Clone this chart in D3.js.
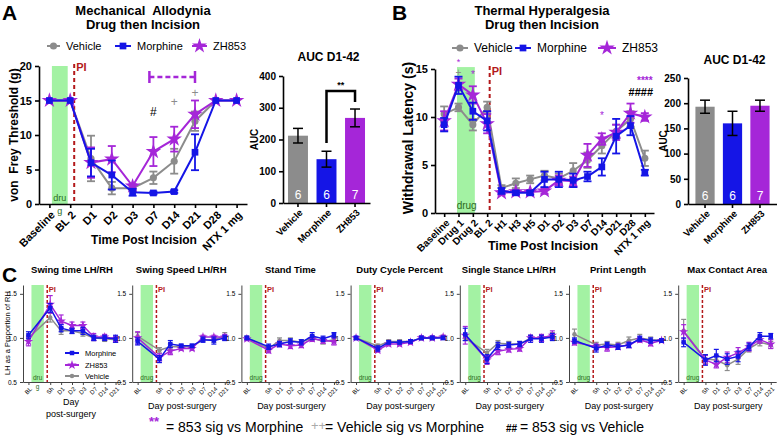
<!DOCTYPE html>
<html><head><meta charset="utf-8">
<script src="https://cdn.jsdelivr.net/npm/d3@7"></script>
<style>body{margin:0;background:#fff} svg{font-family:"Liberation Sans",Arial,Helvetica,sans-serif} text{white-space:pre}</style>
</head><body><svg id="c" width="777" height="441"></svg>
<script>
// ---------- DATA ----------
const groups = ["Vehicle","Morphine","ZH853"];
const groupN = [6,6,7];

const catsA = ["Baseline","BL 2","D1","D2","D3","D7","D14","D21","D28","NTX 1 mg"];
const vehA    = [15,15,6.6,2.3,2.3,3.8,6.2,12.0,15,15];
const vehAErr = [0,0,3.3,0.9,0.3,0.9,1.8,1.4,0,0];
const morA    = [15,15,6.0,4.2,1.7,1.6,1.8,7.5,15,15];
const morAErr = [0,0,2.0,2.1,0.5,0.2,0.2,2.6,0,0];
const zhA     = [15,15,6.0,6.5,2.6,7.6,9.4,13.0,15,15];
const zhAErr  = [0,0,2.2,1.9,0.3,2.1,1.8,2.0,0,0];
const aucA    = [212,138,268];
const aucAErr = [23,25,28];

const catsB = ["Baseline","Drug 1","Drug 2","BL 2","H1","H3","H5","D1","D2","D3","D7","D14","D21","D28","NTX 1 mg"];
const vehB    = [10.3,11.0,9.2,11.0,2.6,3.1,3.5,3.9,3.6,4.4,5.5,7.0,8.5,9.8,5.7];
const vehBErr = [0.8,0.4,0.6,0.6,0.3,0.5,0.4,0.5,0.5,0.8,0.8,0.8,0.7,0.8,0.8];
const morB    = [9.2,13.3,10.6,9.6,2.3,2.1,2.1,3.5,3.5,3.4,3.8,4.8,8.0,9.1,4.2];
const morBErr = [0.7,0.9,0.9,1.0,0.3,0.2,0.2,0.8,0.8,0.7,0.5,0.9,1.8,1.0,0.3];
const zhB     = [9.6,13.4,12.3,9.3,2.1,2.2,2.2,2.3,3.4,3.3,6.0,7.7,8.4,10.4,10.0];
const zhBErr  = [1.0,0.6,0.9,1.0,0.2,0.2,0.2,0.3,0.5,0.5,1.2,0.6,0.8,1.0,0.4];
const aucB    = [193,160,195];
const aucBErr = [13,24,11];

const titlesC = ["Swing time LH/RH","Swing Speed LH/RH","Stand Time","Duty Cycle Percent","Single Stance LH/RH","Print Length","Max Contact Area"];
const catsC = ["BL","Sh","D1","D2","D3","D7","D14","D21"];
const morC = [
 [1.03,1.34,1.11,1.08,1.08,1.00,1.00,0.99],
 [0.96,0.76,0.93,0.91,0.91,0.98,0.97,1.00],
 [1.00,0.90,0.93,0.96,0.95,1.02,0.99,1.03],
 [1.00,0.88,0.95,0.95,0.96,1.00,1.00,1.00],
 [1.04,0.76,0.91,0.92,0.93,0.99,0.99,1.01],
 [0.97,0.88,0.92,0.90,0.92,0.99,0.97,0.97],
 [0.95,0.75,0.80,0.76,0.79,0.90,1.02,1.02]];
const morCErr = [
 [0.04,0.05,0.04,0.03,0.04,0.03,0.03,0.04],
 [0.04,0.04,0.04,0.02,0.02,0.03,0.04,0.03],
 [0.02,0.03,0.03,0.03,0.03,0.04,0.03,0.03],
 [0.02,0.03,0.02,0.02,0.02,0.02,0.02,0.02],
 [0.07,0.05,0.04,0.03,0.03,0.04,0.04,0.04],
 [0.03,0.04,0.03,0.03,0.03,0.03,0.03,0.02],
 [0.05,0.06,0.07,0.06,0.06,0.04,0.04,0.03]];
const zhC = [
 [0.96,1.38,1.19,1.14,1.14,1.01,1.01,0.99],
 [1.00,0.78,0.85,0.88,0.88,1.01,1.01,1.01],
 [0.99,0.86,0.93,0.91,0.92,0.99,0.97,0.96],
 [1.00,0.86,0.93,0.93,0.95,1.00,1.00,1.01],
 [1.03,0.75,0.85,0.87,0.88,1.00,1.00,1.03],
 [0.95,0.90,0.89,0.90,0.92,0.98,0.94,0.97],
 [1.07,0.75,0.70,0.78,0.83,0.90,0.98,0.93]];
const zhCErr = [
 [0.05,0.10,0.07,0.04,0.04,0.04,0.03,0.03],
 [0.07,0.04,0.04,0.02,0.02,0.02,0.02,0.03],
 [0.02,0.03,0.03,0.03,0.03,0.03,0.03,0.04],
 [0.01,0.02,0.02,0.02,0.02,0.02,0.02,0.02],
 [0.10,0.05,0.04,0.03,0.03,0.03,0.04,0.05],
 [0.03,0.03,0.04,0.03,0.03,0.03,0.03,0.02],
 [0.08,0.05,0.04,0.06,0.06,0.05,0.04,0.05]];
const vehC = [
 [1.00,1.23,1.08,1.08,1.05,1.00,0.99,0.98],
 [1.02,0.86,0.90,0.90,0.90,0.98,0.98,1.02],
 [1.00,0.88,0.97,0.97,0.95,1.00,0.96,0.98],
 [1.00,0.91,0.96,0.96,0.96,1.00,1.00,1.01],
 [1.00,0.83,0.94,0.93,0.93,1.00,1.00,1.02],
 [1.04,0.92,0.93,0.92,0.97,1.00,0.98,0.97],
 [1.08,0.76,0.75,0.69,0.76,0.88,0.95,0.92]];
const vehCErr = [
 [0.03,0.05,0.04,0.03,0.03,0.03,0.03,0.03],
 [0.04,0.03,0.03,0.02,0.02,0.02,0.03,0.04],
 [0.02,0.03,0.03,0.03,0.03,0.03,0.03,0.03],
 [0.01,0.02,0.02,0.02,0.02,0.02,0.02,0.02],
 [0.03,0.04,0.03,0.03,0.03,0.03,0.03,0.04],
 [0.06,0.03,0.03,0.03,0.04,0.04,0.03,0.02],
 [0.13,0.05,0.05,0.06,0.06,0.04,0.04,0.04]];

// ---------- STYLE ----------
const COL = {veh:"#8c8c8c", mor:"#1515e6", zh:"#a526d8"};
const GREEN = "#a3f2a3", PIRED = "#b3191b", TXTGREEN = "#2c6a1c";
const svg = d3.select("#c");

function series(g, x, y, cats, vals, errs, color, sym, size, lw, cap, ebw){
  const line = d3.line().x((d,i)=>x(cats[i])).y(d=>y(d));
  g.append("path").attr("d", line(vals)).attr("fill","none").attr("stroke",color).attr("stroke-width",lw);
  vals.forEach((v,i)=>{
    const e = errs[i]; if(!(e>0)) return;
    const cx = x(cats[i]);
    g.append("line").attr("x1",cx).attr("x2",cx).attr("y1",y(v-e)).attr("y2",y(v+e)).attr("stroke",color).attr("stroke-width",ebw);
    [v-e,v+e].forEach(t=>g.append("line").attr("x1",cx-cap/2).attr("x2",cx+cap/2).attr("y1",y(t)).attr("y2",y(t)).attr("stroke",color).attr("stroke-width",ebw));
  });
  g.selectAll(null).data(vals).join("path")
    .attr("transform",(d,i)=>`translate(${x(cats[i])},${y(d)})`)
    .attr("d", d3.symbol().type(sym).size(size)).attr("fill",color);
}
function styleAxis(ag, fs, bold, sw){
  ag.attr("font-family",null).attr("font-size",null);
  ag.selectAll("path,line").attr("stroke","#000").attr("stroke-width",sw);
  ag.selectAll("text").attr("font-size",fs).attr("font-weight",bold?"bold":"normal").attr("fill","#000");
}
function rotLabels(ag, dx, dy){
  ag.selectAll("text").attr("x",0).attr("y",0).attr("dy","0.35em").attr("text-anchor","end")
    .attr("transform",`translate(${dx},${dy}) rotate(-45)`);
}
function txt(x,y,s,fs,opts={}){
  const t = svg.append("text").attr("x",x).attr("y",y).text(s).attr("font-size",fs)
   .attr("font-weight",opts.bold?"bold":"normal").attr("fill",opts.fill||"#000")
   .attr("text-anchor",opts.anchor||"start");
  if(opts.rot) t.attr("transform",`rotate(${opts.rot},${x},${y})`);
  return t;
}
function legendItem(g, x1, x2, y, color, sym, size, label, fs){
  g.append("line").attr("x1",x1).attr("x2",x2).attr("y1",y).attr("y2",y).attr("stroke",color).attr("stroke-width",2);
  g.append("path").attr("transform",`translate(${(x1+x2)/2},${y})`).attr("d",d3.symbol().type(sym).size(size)).attr("fill",color);
  g.append("text").attr("x",x2+6).attr("y",y).attr("dy","0.35em").attr("font-size",fs).text(label);
}

// ================= PANEL A =================
txt(2,20,"A",21,{bold:true});
txt(143,15,"Mechanical  Allodynia",13,{bold:true,anchor:"middle"});
txt(143,29,"Drug then Incision",13,{bold:true,anchor:"middle"});
const gA = svg.append("g");
legendItem(gA,47,60,46,COL.veh,d3.symbolCircle,40,"Vehicle",11);
legendItem(gA,115,131,46,COL.mor,d3.symbolSquare,45,"Morphine",11);
legendItem(gA,192,207,46,COL.zh,d3.symbolStar,70,"ZH853",11);

const xA = d3.scalePoint().domain(catsA).range([39,247]).padding(0.5);
const yA = d3.scaleLinear().domain([0,20]).range([204,66]);
gA.append("rect").attr("x",xA("Baseline")+2.5).attr("width",xA("BL 2")-xA("Baseline")-5)
  .attr("y",yA(20)).attr("height",yA(0)-yA(20)).attr("fill",GREEN);
gA.append("text").attr("x",(xA("Baseline")+xA("BL 2"))/2).attr("y",yA(0)-3).attr("text-anchor","middle").attr("font-size",9).attr("fill",TXTGREEN).text("dru");
gA.append("text").attr("x",(xA("Baseline")+xA("BL 2"))/2).attr("y",yA(0)+10).attr("text-anchor","middle").attr("font-size",9).attr("fill",TXTGREEN).text("g");
const piAx = xA("BL 2")+4;
gA.append("line").attr("x1",piAx).attr("x2",piAx).attr("y1",yA(20.3)).attr("y2",yA(0)).attr("stroke",PIRED).attr("stroke-width",2).attr("stroke-dasharray","4,3");
gA.append("text").attr("x",piAx+2).attr("y",yA(19.3)).attr("font-size",11).attr("font-weight","bold").attr("fill",PIRED).text("PI");

series(gA,xA,yA,catsA,vehA,vehAErr,COL.veh,d3.symbolCircle,40,2,8,1.8);
series(gA,xA,yA,catsA,zhA,zhAErr,COL.zh,d3.symbolStar,75,2,8,1.8);
series(gA,xA,yA,catsA,morA,morAErr,COL.mor,d3.symbolSquare,45,2,8,1.8);

// bracket
const bY = 77, bx1 = xA("D7")-4, bx2 = xA("D21");
gA.append("line").attr("x1",bx1).attr("x2",bx2).attr("y1",bY).attr("y2",bY).attr("stroke",COL.zh).attr("stroke-width",2.5).attr("stroke-dasharray","5,3");
[bx1,bx2].forEach(b=>gA.append("line").attr("x1",b).attr("x2",b).attr("y1",bY-6).attr("y2",bY+6).attr("stroke",COL.zh).attr("stroke-width",2.5));
gA.append("text").attr("x",xA("D7")).attr("y",yA(13.3)+4).attr("text-anchor","middle").attr("font-size",12).text("#");
gA.append("text").attr("x",xA("D14")).attr("y",yA(14.8)+4).attr("text-anchor","middle").attr("font-size",12).attr("fill",COL.veh).text("+");
gA.append("text").attr("x",xA("D21")).attr("y",yA(16.1)+4).attr("text-anchor","middle").attr("font-size",12).attr("fill",COL.veh).text("+");

const axAy = gA.append("g").attr("transform",`translate(39,0)`).call(d3.axisLeft(yA).tickValues([0,5,10,15,20]).tickSize(4).tickSizeOuter(0));
styleAxis(axAy,11,true,1.6);
const axAx = gA.append("g").attr("transform",`translate(0,${yA(0)})`).call(d3.axisBottom(xA).tickSize(4).tickSizeOuter(0));
styleAxis(axAx,11,true,1.6); rotLabels(axAx,3,9);
txt(14,135,"von  Frey Threshold (g)",12,{bold:true,anchor:"middle",rot:-90}).attr("dy","0.35em");
txt(144,244,"Time Post Incision",12,{bold:true,anchor:"middle"});

// ---- AUC panels ----
function aucPanel(x0,x1,po,yRange,dom,ticks,vals,errs,title,titleY,labelX){
  const g = svg.append("g");
  const xb = d3.scaleBand().domain(groups).range([x0,x1]).paddingInner(0.3).paddingOuter(po);
  const yb = d3.scaleLinear().domain(dom).range(yRange);
  const cols = [COL.veh,COL.mor,COL.zh];
  g.selectAll(null).data(vals).join("rect").attr("x",(d,i)=>xb(groups[i])).attr("width",xb.bandwidth())
    .attr("y",d=>yb(d)).attr("height",d=>yb(0)-yb(d)).attr("fill",(d,i)=>cols[i]);
  vals.forEach((v,i)=>{
    const cx = xb(groups[i])+xb.bandwidth()/2;
    g.append("line").attr("x1",cx).attr("x2",cx).attr("y1",yb(v-errs[i])).attr("y2",yb(v+errs[i])).attr("stroke","#000").attr("stroke-width",1.5);
    [v-errs[i],v+errs[i]].forEach(t=>g.append("line").attr("x1",cx-5).attr("x2",cx+5).attr("y1",yb(t)).attr("y2",yb(t)).attr("stroke","#000").attr("stroke-width",1.5));
    g.append("text").attr("x",cx).attr("y",yb(0)-4).attr("text-anchor","middle").attr("font-size",12).attr("fill","#fff").text(groupN[i]);
  });
  const ay = g.append("g").attr("transform",`translate(${x0},0)`).call(d3.axisLeft(yb).tickValues(ticks).tickSize(4).tickSizeOuter(0));
  styleAxis(ay,10,true,1.6);
  const ax = g.append("g").attr("transform",`translate(0,${yb(0)})`).call(d3.axisBottom(xb).tickSize(4).tickSizeOuter(0));
  styleAxis(ax,9.5,true,1.6); rotLabels(ax,3,8);
  g.append("text").attr("x",(x0+x1)/2+2).attr("y",titleY).attr("text-anchor","middle").attr("font-size",12).attr("font-weight","bold").text(title);
  g.append("text").attr("transform",`translate(${labelX},${(yRange[0]+yRange[1])/2}) rotate(-90)`).attr("text-anchor","middle").attr("dy","0.35em").attr("font-size",10).attr("font-weight","bold").text("AUC");
  return {g,xb,yb};
}
const pA = aucPanel(283,370,0.175,[203,76],[0,400],[0,100,200,300,400],aucA,aucAErr,"AUC D1-42",61,254);
{
  const cm = pA.xb("Morphine")+pA.xb.bandwidth()/2, cz = pA.xb("ZH853")+pA.xb.bandwidth()/2;
  const yT = pA.yb(353);
  pA.g.append("path").attr("d",`M${cm},${pA.yb(189)}V${yT}H${cz}V${pA.yb(318)}`).attr("fill","none").attr("stroke","#000").attr("stroke-width",2.5);
  pA.g.append("text").attr("x",(cm+cz)/2).attr("y",yT-3).attr("text-anchor","middle").attr("font-size",9).attr("font-weight","bold").text("**");
}

// ================= PANEL B =================
txt(392,20,"B",21,{bold:true});
txt(542,15,"Thermal Hyperalgesia",13,{bold:true,anchor:"middle"});
txt(542,29,"Drug then Incision",13,{bold:true,anchor:"middle"});
const gB = svg.append("g");
legendItem(gB,452,468,48,COL.veh,d3.symbolCircle,40,"Vehicle",12);
legendItem(gB,515,531,48,COL.mor,d3.symbolSquare,45,"Morphine",12);
legendItem(gB,598,616,48,COL.zh,d3.symbolStar,75,"ZH853",12);

const xB = d3.scalePoint().domain(catsB).range([437,652]).padding(0.5);
const yB = d3.scaleLinear().domain([0,15]).range([213,69]);
gB.append("rect").attr("x",xB("Drug 1")-1.5).attr("width",xB("Drug 2")-xB("Drug 1")+3.5)
  .attr("y",yB(15.2)).attr("height",yB(0)-yB(15.2)).attr("fill",GREEN);
gB.append("text").attr("x",(xB("Drug 1")+xB("Drug 2"))/2+1).attr("y",yB(0)-4).attr("text-anchor","middle").attr("font-size",10).attr("fill",TXTGREEN).text("drug");
const piBx = xB("BL 2")+2.5;
gB.append("line").attr("x1",piBx).attr("x2",piBx).attr("y1",yB(15.3)).attr("y2",yB(0)).attr("stroke",PIRED).attr("stroke-width",2).attr("stroke-dasharray","4,3");
gB.append("text").attr("x",piBx+2).attr("y",yB(14.4)).attr("font-size",11).attr("font-weight","bold").attr("fill",PIRED).text("PI");

series(gB,xB,yB,catsB,vehB,vehBErr,COL.veh,d3.symbolCircle,40,2,8,1.8);
series(gB,xB,yB,catsB,zhB,zhBErr,COL.zh,d3.symbolStar,75,2,8,1.8);
series(gB,xB,yB,catsB,morB,morBErr,COL.mor,d3.symbolSquare,45,2,8,1.8);

gB.append("text").attr("x",xB("Drug 1")).attr("y",yB(15.9)+5).attr("text-anchor","middle").attr("font-size",9).attr("fill",COL.zh).text("*");
gB.append("text").attr("x",xB("Drug 1")).attr("y",yB(14.7)+4).attr("text-anchor","middle").attr("font-size",10).attr("fill",COL.veh).text("+");
gB.append("text").attr("x",xB("Drug 2")).attr("y",yB(14.7)+6).attr("text-anchor","middle").attr("font-size",10).attr("fill",COL.zh).text("*");
gB.append("text").attr("x",xB("D14")).attr("y",yB(10.4)+6).attr("text-anchor","middle").attr("font-size",10).attr("fill",COL.zh).text("*");
gB.append("text").attr("x",xB("NTX 1 mg")).attr("y",yB(14.0)+5).attr("text-anchor","middle").attr("font-size",10).attr("font-weight","bold").attr("fill",COL.zh).text("****");
gB.append("text").attr("x",xB("NTX 1 mg")-4).attr("y",yB(12.7)+5).attr("text-anchor","middle").attr("font-size",11).attr("font-weight","bold").text("####");

const axBy = gB.append("g").attr("transform",`translate(435,0)`).call(d3.axisLeft(yB).tickValues([0,5,10,15]).tickSize(4).tickSizeOuter(0));
styleAxis(axBy,11,true,1.6);
const axBx = gB.append("g").attr("transform",`translate(0,${yB(0)})`).call(d3.axisBottom(xB.copy().range([435,654]).padding(0)).tickValues([]).tickSizeOuter(0));
styleAxis(axBx,10,true,1.6);
const axBx2 = gB.append("g").attr("transform",`translate(0,${yB(0)})`).call(d3.axisBottom(xB).tickSize(4).tickSizeOuter(0));
styleAxis(axBx2,10,true,1.6); axBx2.select(".domain").remove(); rotLabels(axBx2,3,8);
txt(408,138,"Withdrawal Latency (s)",14,{bold:true,anchor:"middle",rot:-90}).attr("dy","0.35em");
txt(543,250,"Time Post Incision",12.5,{bold:true,anchor:"middle"});

aucPanel(688,777,0.27,[204,78],[0,250],[0,50,100,150,200,250],aucB,aucBErr,"AUC D1-42",64,663);

// ================= PANEL C =================
txt(2,282,"C",21,{bold:true});
const yC = d3.scaleLinear().domain([0.5,1.6]).range([382,285]);
const slotC = ["BL","gap","Sh","D1","D2","D3","D7","D14","D21"];
titlesC.forEach((title,p)=>{
  const ax = 23 + p*109.2;
  const g = svg.append("g");
  const x = d3.scalePoint().domain(slotC).range([ax,ax+98]).padding(0.5);
  g.append("rect").attr("x",x("BL")+3).attr("width",x("gap")-x("BL")+1.5).attr("y",yC(1.6)).attr("height",yC(0.5)-yC(1.6)).attr("fill",GREEN);
  const cxr = (x("BL")+3 + x("gap")+4.5)/2;
  if(p===0){
    g.append("text").attr("x",cxr).attr("y",380).attr("text-anchor","middle").attr("font-size",6.5).attr("fill",TXTGREEN).text("dru");
    g.append("text").attr("x",cxr).attr("y",389).attr("text-anchor","middle").attr("font-size",6.5).attr("fill",TXTGREEN).text("g");
  } else {
    g.append("text").attr("x",cxr).attr("y",380).attr("text-anchor","middle").attr("font-size",6.5).attr("fill",TXTGREEN).text("drug");
  }
  const pix = x("Sh")-3;
  g.append("line").attr("x1",pix).attr("x2",pix).attr("y1",yC(1.6)).attr("y2",yC(0.5)).attr("stroke",PIRED).attr("stroke-width",1.5).attr("stroke-dasharray","3,2");
  g.append("text").attr("x",pix+1.5).attr("y",yC(1.52)).attr("font-size",7.5).attr("font-weight","bold").attr("fill",PIRED).text("PI");
  series(g,x,yC,catsC,vehC[p],vehCErr[p],COL.veh,d3.symbolCircle,16,1.5,5,1.2);
  series(g,x,yC,catsC,zhC[p],zhCErr[p],COL.zh,d3.symbolStar,28,1.5,5,1.2);
  series(g,x,yC,catsC,morC[p],morCErr[p],COL.mor,d3.symbolSquare,20,1.5,5,1.2);
  const ay = g.append("g").attr("transform",`translate(${ax},0)`).call(d3.axisLeft(yC).tickValues([0.5,1.0,1.5]).tickFormat(d3.format(".1f")).tickSize(3).tickSizeOuter(0));
  styleAxis(ay,6.5,false,1);
  ay.selectAll("path,line").attr("stroke","#444");
  const axx = g.append("g").attr("transform",`translate(0,${yC(0.5)})`).call(d3.axisBottom(x).tickValues(catsC).tickSize(3).tickSizeOuter(0));
  styleAxis(axx,6,false,1); axx.selectAll("path,line").attr("stroke","#444"); rotLabels(axx,2,6);
  g.append("text").attr("x",ax+49).attr("y",273).attr("text-anchor","middle").attr("font-size",9.5).attr("font-weight","bold").text(title);
  if(p===0){
    g.append("text").attr("x",ax+48).attr("y",405).attr("text-anchor","middle").attr("font-size",9).text("Day");
    g.append("text").attr("x",ax+48).attr("y",417).attr("text-anchor","middle").attr("font-size",9).text("post-surgery");
    legendItem(g,65,79,353,COL.mor,d3.symbolSquare,20,"Morphine",7.5);
    legendItem(g,65,79,365,COL.zh,d3.symbolStar,28,"ZH853",7.5);
    legendItem(g,65,79,376,COL.veh,d3.symbolCircle,16,"Vehicle",7.5);
  } else {
    g.append("text").attr("x",ax+50).attr("y",409).attr("text-anchor","middle").attr("font-size",9).text("Day post-surgery");
  }
});
txt(7,333,"LH as a Proportion of RH",7.5,{anchor:"middle",rot:-90}).attr("dy","0.35em");

// bottom key
txt(149,426,"**",13,{bold:true,fill:COL.zh});
txt(166,432,"= 853 sig vs Morphine",14);
txt(311,430,"++",13,{fill:"#aaa"});
txt(325,432,"= Vehicle sig vs Morphine",14);
txt(506,432,"##",10,{bold:true});
txt(520,432,"= 853 sig vs Vehicle",14);
</script></body></html>
